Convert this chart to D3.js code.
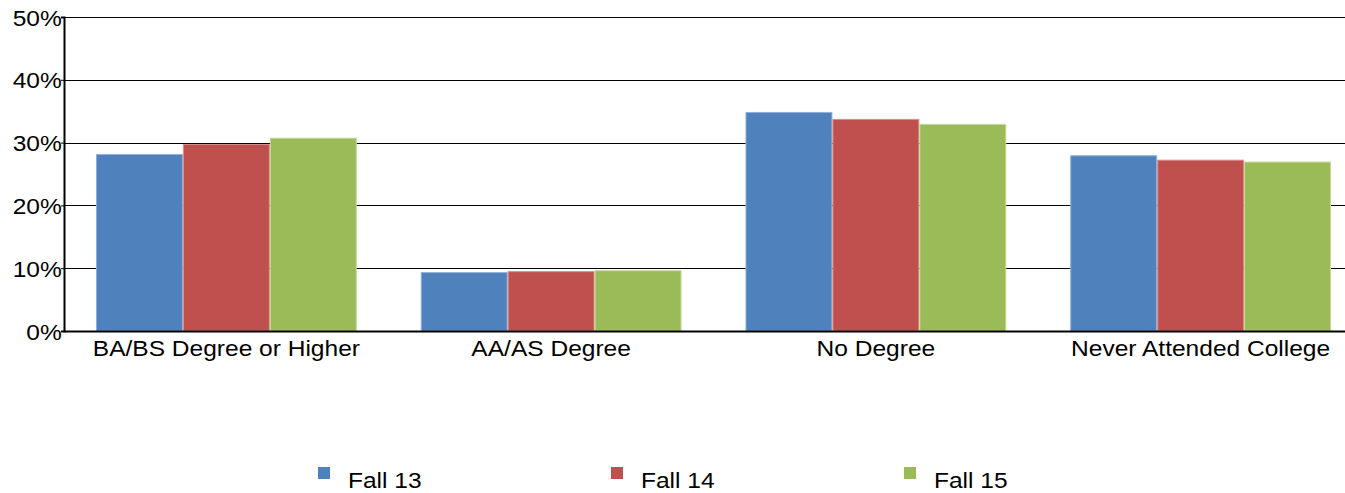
<!DOCTYPE html>
<html>
<head>
<meta charset="utf-8">
<style>
  body { margin: 0; background: #fff; }
  text { font-family: "Liberation Sans", Arial, sans-serif; fill: #000; }
</style>
</head>
<body>
<script src="https://cdn.jsdelivr.net/npm/d3@7/dist/d3.min.js"></script>
<script>
// data
var categories = ["BA/BS Degree or Higher", "AA/AS Degree", "No Degree", "Never Attended College"];
var seriesNames = ["Fall 13", "Fall 14", "Fall 15"];
var fall13 = [28.1, 9.3, 34.8, 27.9];
var fall14 = [29.7, 9.45, 33.7, 27.2];
var fall15 = [30.7, 9.6, 32.9, 26.9];
var yTicks = [0, 10, 20, 30, 40, 50];

var colors = ["#4F81BD", "#C0504D", "#9BBB59"];
var strokes = ["#8FB0D8", "#D88E8C", "#C3D89A"];

var width = 1345, height = 493;
var margin = {top: 17, left: 64, bottom: 162};
var plotRight = 1363; // plot runs a little past the window edge
var fontSize = "22.3px";
var stretch = "scale(1.1,1)"; // text in the original is a bit wide

var svg = d3.select("body").append("svg")
  .attr("width", width)
  .attr("height", height);

var x0 = d3.scaleBand()
  .domain(categories)
  .range([margin.left, plotRight])
  .paddingInner(0.197)
  .paddingOuter(0.0985);

var x1 = d3.scaleBand()
  .domain(seriesNames)
  .range([0, x0.bandwidth()]);

var y = d3.scaleLinear()
  .domain([0, 50])
  .range([height - margin.bottom, margin.top]);

// gridlines
svg.append("g")
  .selectAll("line")
  .data(yTicks.slice(1))
  .enter().append("line")
  .attr("x1", margin.left)
  .attr("x2", plotRight)
  .attr("y1", function(d) { return Math.round(y(d)) + 0.5; })
  .attr("y2", function(d) { return Math.round(y(d)) + 0.5; })
  .attr("stroke", "#000")
  .attr("stroke-width", 1);

// bars
var rows = categories.map(function(c, i) {
  return {cat: c, vals: [fall13[i], fall14[i], fall15[i]]};
});

var groups = svg.append("g")
  .selectAll("g")
  .data(rows)
  .enter().append("g")
  .attr("transform", function(d) { return "translate(" + x0(d.cat) + ",0)"; });

groups.selectAll("rect")
  .data(function(d) {
    return d.vals.map(function(v, j) { return {name: seriesNames[j], v: v, j: j}; });
  })
  .enter().append("rect")
  .attr("x", function(d) { return x1(d.name) + 0.5; })
  .attr("y", function(d) { return y(d.v); })
  .attr("width", x1.bandwidth() - 1)
  .attr("height", function(d) { return y(0) - y(d.v); })
  .attr("fill", function(d) { return colors[d.j]; })
  .attr("stroke", function(d) { return strokes[d.j]; })
  .attr("stroke-width", 1);

// y axis
var yAxis = svg.append("g")
  .attr("transform", "translate(" + margin.left + ",0)")
  .call(d3.axisLeft(y).tickValues(yTicks).tickSize(3).tickFormat(function(d) { return d + "%"; }));
yAxis.select(".domain").attr("stroke", "#000").attr("stroke-width", 2);
yAxis.selectAll(".tick line").attr("stroke", "#000");
yAxis.selectAll(".tick text")
  .attr("x", -2)
  .attr("dy", "0.36em")
  .attr("transform", stretch)
  .style("font-size", fontSize)
  .style("font-family", "'Liberation Sans', Arial, sans-serif");

// x axis
var xAxis = svg.append("g")
  .attr("transform", "translate(0," + y(0) + ")")
  .call(d3.axisBottom(x0).tickSize(0).tickSizeOuter(0));
xAxis.select(".domain").attr("stroke", "#000").attr("stroke-width", 2);
xAxis.selectAll(".tick text")
  .attr("y", 9)
  .attr("dy", "0.71em")
  .attr("transform", stretch)
  .style("font-size", fontSize)
  .style("font-family", "'Liberation Sans', Arial, sans-serif");

// legend
var legend = svg.append("g")
  .selectAll("g")
  .data(seriesNames)
  .enter().append("g")
  .attr("transform", function(d, i) { return "translate(" + (318 + i * 293) + ",467)"; });

legend.append("rect")
  .attr("width", 12)
  .attr("height", 12)
  .attr("fill", function(d, i) { return colors[i]; });

legend.append("text")
  .attr("transform", "translate(30,21) " + stretch)
  .style("font-size", fontSize)
  .text(function(d) { return d; });
</script>
</body>
</html>
